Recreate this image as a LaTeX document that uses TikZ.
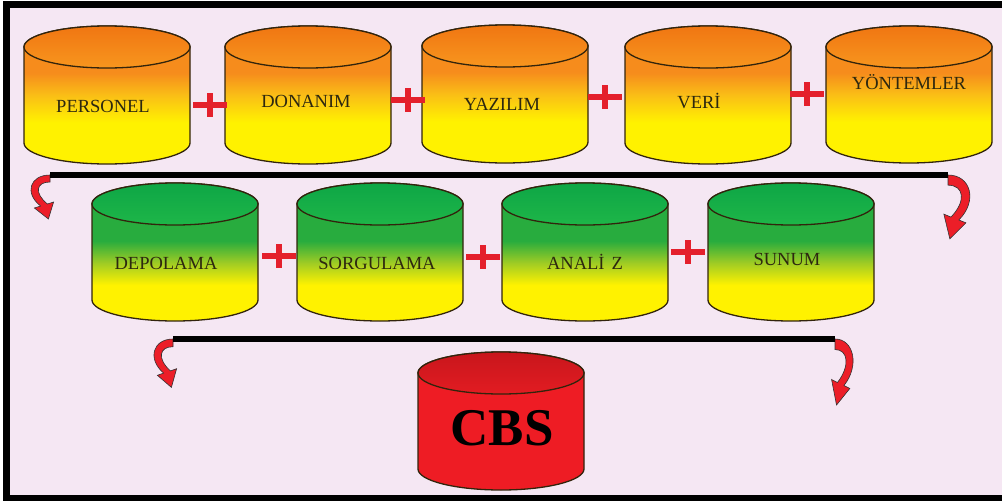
\documentclass[tikz,border=0pt]{standalone}
\usepackage{fontspec}
\setmainfont{Liberation Serif}
\usetikzlibrary{calc}

\definecolor{paper}{RGB}{245,231,243}
\definecolor{edgecol}{RGB}{50,36,12}
\definecolor{lblcol}{RGB}{45,40,15}
\definecolor{plusred}{RGB}{228,32,44}
\definecolor{arrowred}{RGB}{236,30,40}
\definecolor{ylw}{RGB}{255,242,0}
\definecolor{ylwB}{RGB}{250,190,22}
\definecolor{orgB}{RGB}{246,140,28}
\definecolor{lidOa}{RGB}{240,118,18}
\definecolor{lidOb}{RGB}{248,150,30}
\definecolor{grnB}{RGB}{40,172,62}
\definecolor{grnM}{RGB}{160,204,36}
\definecolor{lidGa}{RGB}{14,166,70}
\definecolor{lidGb}{RGB}{30,182,72}
\definecolor{cbsred}{RGB}{238,28,36}
\definecolor{cbslida}{RGB}{200,22,28}
\definecolor{cbslidb}{RGB}{226,28,34}

% body and lid shadings
\pgfdeclareverticalshading{orangebody}{100bp}{color(0bp)=(ylw); color(25bp)=(ylw); color(40bp)=(ylw); color(50bp)=(ylwB); color(58bp)=(orgB); color(100bp)=(orgB)}
\pgfdeclareverticalshading{orangelid}{100bp}{color(0bp)=(lidOb); color(25bp)=(lidOb); color(75bp)=(lidOa); color(100bp)=(lidOa)}
\pgfdeclareverticalshading{greenbody}{100bp}{color(0bp)=(ylw); color(25bp)=(ylw); color(38bp)=(ylw); color(46bp)=(grnM); color(54bp)=(grnB); color(100bp)=(grnB)}
\pgfdeclareverticalshading{greenlid}{100bp}{color(0bp)=(lidGb); color(25bp)=(lidGb); color(75bp)=(lidGa); color(100bp)=(lidGa)}
\pgfdeclareverticalshading{redbody}{100bp}{color(0bp)=(cbsred); color(100bp)=(cbsred)}
\pgfdeclareverticalshading{redlid}{100bp}{color(0bp)=(cbslidb); color(25bp)=(cbslidb); color(75bp)=(cbslida); color(100bp)=(cbslida)}

% cylinder: #1 centre x, #2 top y, #3 bottom y, #4 body shading, #5 lid shading
\newcommand\dbcyl[5]{%
  \pgfmathsetmacro\cyXl{#1-83}\pgfmathsetmacro\cyXr{#1+83}%
  \pgfmathsetmacro\cyXa{#1-83*0.5523}\pgfmathsetmacro\cyXb{#1+83*0.5523}%
  \pgfmathsetmacro\cyTc{#2+21}\pgfmathsetmacro\cyBc{#3-21}%
  \pgfmathsetmacro\cyTk{\cyTc-21*0.5523}\pgfmathsetmacro\cyBk{\cyBc+21*0.5523}%
  \shade[shading=#4, cylline]
    (\cyXl,\cyTc) -- (\cyXl,\cyBc)
    .. controls (\cyXl,\cyBk) and (\cyXa,#3) .. (#1,#3)
    .. controls (\cyXb,#3) and (\cyXr,\cyBk) .. (\cyXr,\cyBc)
    -- (\cyXr,\cyTc)
    .. controls (\cyXr,\cyTk) and (\cyXb,#2) .. (#1,#2)
    .. controls (\cyXa,#2) and (\cyXl,\cyTk) .. (\cyXl,\cyTc) -- cycle;
  \shade[shading=#5, cylline] (#1,\cyTc) ellipse [x radius=83, y radius=21];
}

% red plus sign between two cylinders
\newcommand\plusmark[1]{%
  \draw[plusline] (#1) ++(-17,0) -- ++(34,0);
  \draw[plusline] (#1) ++(0,-12) -- ++(0,24);
}

\tikzset{
  cylline/.style={draw=edgecol, line width=1.3pt},
  lbl/.style={font=\fontsize{18.5}{19}\selectfont, text=lblcol, inner sep=0pt},
  bigl/.style={font=\fontsize{53}{55}\selectfont\bfseries, text=black, inner sep=0pt},
  plusline/.style={draw=plusred, line width=5.5pt},
  bar/.style={draw=black, line width=6.5pt},
  curlarrow/.pic={
    \fill[arrowred, draw=black!80, line width=0.6pt]
      (0,0) .. controls (-20,0) and (-26,18) .. (-9.4,31)
      -- (-15.6,33) -- (-1.6,44) -- (3.6,27) -- (-2.6,29)
      .. controls (-16,18) and (-14,7) .. (0,7) -- cycle;
  }
}

\begin{document}
\begin{tikzpicture}[x=1pt, y=-1pt]
\useasboundingbox (0,0) rectangle (1002,501);
% frame
\fill[white] (0,0) rectangle (1002,501);
\fill[black] (3,1) rectangle (1002,501);
\fill[paper] (10,8) rectangle (1002,495);

% first row: components
\dbcyl{107}{26}{164}{orangebody}{orangelid}
\dbcyl{308}{26}{164}{orangebody}{orangelid}
\dbcyl{505}{25}{163}{orangebody}{orangelid}
\dbcyl{708}{26}{164}{orangebody}{orangelid}
\dbcyl{909}{26}{163}{orangebody}{orangelid}
\node[lbl] (personel) at (103,106) {PERSONEL};
\node[lbl] (donanim)  at (306,101) {DONANIM};
\node[lbl] (yazilim)  at (502,104) {YAZILIM};
\node[lbl] (veri)     at (699,101) {VERİ};
\node[lbl] (yontem)   at (909,82)  {YÖNTEMLER};

\coordinate (p1) at (210,105);
\coordinate (p2) at (408,100);
\coordinate (p3) at (605,97);
\coordinate (p4) at (807,94);
\foreach \p in {p1,p2,p3,p4} {\plusmark{\p}}

% first bracket
\coordinate (b1l) at (50,175);
\coordinate (b1r) at (948,175);
\pic at (b1l) {curlarrow};
\pic[xscale=-1.15, yscale=1.45] at (b1r) {curlarrow};
\draw[bar] (b1l) -- (b1r);

% second row: functions
\dbcyl{175}{183}{321}{greenbody}{greenlid}
\dbcyl{380}{183}{321}{greenbody}{greenlid}
\dbcyl{585}{183}{321}{greenbody}{greenlid}
\dbcyl{791}{183}{321}{greenbody}{greenlid}
\node[lbl] (depolama)  at (166,263) {DEPOLAMA};
\node[lbl] (sorgulama) at (377,263) {SORGULAMA};
\node[lbl] (analiz)    at (585,262) {ANALİ\hspace{7pt}Z};
\node[lbl] (sunum)     at (787,259) {SUNUM};

\coordinate (q1) at (279,256);
\coordinate (q2) at (483,257);
\coordinate (q3) at (688,252);
\foreach \p in {q1,q2,q3} {\plusmark{\p}}

% second bracket
\coordinate (b2l) at (173,339);
\coordinate (b2r) at (835,339);
\pic[yscale=1.1] at (b2l) {curlarrow};
\pic[xscale=-0.95, yscale=1.5] at (b2r) {curlarrow};
\draw[bar] (b2l) -- (b2r);

% result
\dbcyl{501}{352}{490}{redbody}{redlid}
\node[bigl] (cbs) at (502,428) {CBS};
\end{tikzpicture}
\end{document}
